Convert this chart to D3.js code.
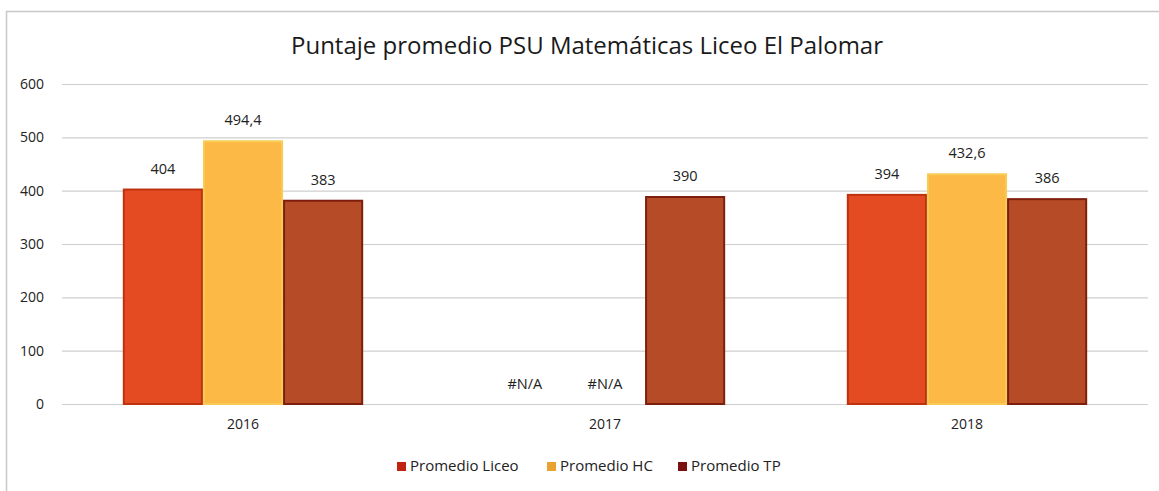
<!DOCTYPE html>
<html>
<head>
<meta charset="utf-8">
<script src="https://d3js.org/d3.v7.min.js"></script>
<style>
  html, body { margin: 0; padding: 0; background: #fff; }
  svg { display: block; font-family: "Open Sans", "Noto Sans", sans-serif; }
</style>
</head>
<body>
<div id="chart"></div>
<script>
/* Data */
const years  = ['2016', '2017', '2018'];
const series = ['Promedio Liceo', 'Promedio HC', 'Promedio TP'];
const liceo  = [404, null, 394];
const hc     = [494.4, null, 432.6];
const tp     = [383, 390, 386];
const yTicks = [0, 100, 200, 300, 400, 500, 600];

const fills   = ['#E54B22', '#FDB946', '#B64B27'];
const strokes = ['#BE3210', '#F8CB55', '#7E1F0D'];
const swatch  = ['#C0230F', '#E9A332', '#7A1010'];

const W = 1159, H = 491;
const margin = { top: 84, right: 11, bottom: 87, left: 62 };

const svg = d3.select('#chart').append('svg')
  .attr('width', W).attr('height', H);

/* chart frame (only top and left edges visible in the crop) */
svg.append('path')
  .attr('d', `M6.5,${H} L6.5,11.5 L${W},11.5`)
  .attr('fill', 'none')
  .attr('stroke', '#c8c8c8')
  .attr('stroke-width', 1.5);

svg.append('text')
  .attr('x', 587).attr('y', 54)
  .attr('text-anchor', 'middle')
  .attr('font-size', 24)
  .attr('fill', '#1a1a1a')
  .text('Puntaje promedio PSU Matemáticas Liceo El Palomar');

const x0 = d3.scaleBand()
  .domain(years)
  .range([margin.left, W - margin.right])
  .paddingInner(0.336)
  .paddingOuter(0.168);

const x1 = d3.scaleBand()
  .domain(series)
  .range([0, x0.bandwidth()]);

const y = d3.scaleLinear()
  .domain([0, 600])
  .range([H - margin.bottom, margin.top]);

/* gridlines */
svg.append('g')
  .selectAll('line')
  .data(yTicks)
  .join('line')
  .attr('x1', margin.left).attr('x2', W - margin.right)
  .attr('y1', d => y(d) + 0.5).attr('y2', d => y(d) + 0.5)
  .attr('stroke', '#cfcfcf')
  .attr('stroke-width', 1.2);

/* y tick labels */
svg.append('g')
  .selectAll('text')
  .data(yTicks)
  .join('text')
  .attr('x', 44).attr('y', d => y(d))
  .attr('dy', '0.35em')
  .attr('text-anchor', 'end')
  .attr('font-size', 14)
  .attr('fill', '#222')
  .text(d => d);

/* x axis labels */
svg.append('g')
  .selectAll('text')
  .data(years)
  .join('text')
  .attr('x', d => x0(d) + x0.bandwidth() / 2)
  .attr('y', y(0) + 25)
  .attr('text-anchor', 'middle')
  .attr('font-size', 14)
  .attr('fill', '#222')
  .text(d => d);

/* bars */
const rows = years.map((yr, i) => ({
  year: yr,
  vals: [liceo[i], hc[i], tp[i]].map((v, k) => ({ key: series[k], k, v }))
}));

const groups = svg.append('g')
  .selectAll('g')
  .data(rows)
  .join('g')
  .attr('transform', d => `translate(${x0(d.year)},0)`);

groups.selectAll('rect')
  .data(d => d.vals.filter(o => o.v !== null))
  .join('rect')
  .attr('x', d => x1(d.key) + 1)
  .attr('width', x1.bandwidth() - 2)
  .attr('y', d => y(d.v) + 1)
  .attr('height', d => y(0) - y(d.v) - 1)
  .attr('fill', d => fills[d.k])
  .attr('stroke', d => strokes[d.k])
  .attr('stroke-width', 2);

/* data labels */
const fmt = v => v === null ? '#N/A' : String(v).replace('.', ',');
groups.selectAll('text')
  .data(d => d.vals)
  .join('text')
  .attr('x', d => x1(d.key) + x1.bandwidth() / 2)
  .attr('y', d => y(d.v === null ? 0 : d.v) - 15)
  .attr('text-anchor', 'middle')
  .attr('font-size', 14.5)
  .attr('fill', '#222')
  .text(d => fmt(d.v));

/* legend */
const legendX = [397, 547, 678];
const legend = svg.append('g')
  .selectAll('g')
  .data(series)
  .join('g')
  .attr('transform', (d, i) => `translate(${legendX[i]},466)`);

legend.append('rect')
  .attr('x', 0).attr('y', -4)
  .attr('width', 9).attr('height', 9)
  .attr('fill', (d, i) => swatch[i]);

legend.append('text')
  .attr('x', 13).attr('dy', '0.35em')
  .attr('font-size', 15)
  .attr('fill', '#222')
  .text(d => d);
</script>
</body>
</html>
